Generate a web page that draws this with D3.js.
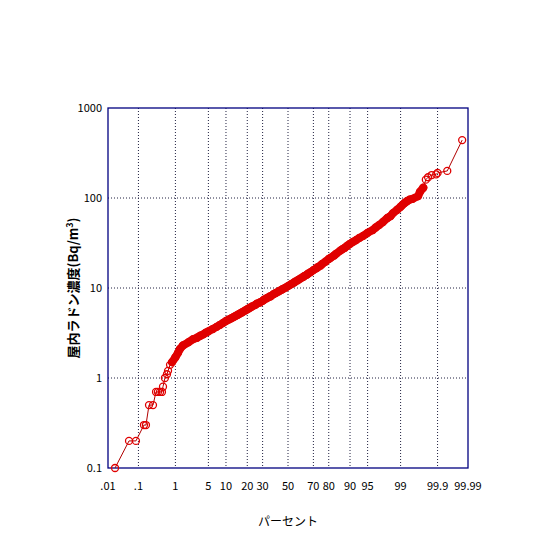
<!DOCTYPE html>
<html><head><meta charset="utf-8">
<script src="https://cdn.jsdelivr.net/npm/d3@7"></script>
<style>body{margin:0;background:#fff}text{font-family:"Noto Sans CJK JP","DejaVu Sans",sans-serif}</style>
</head><body><svg id="c" width="540" height="540"></svg>
<script>
// Percentile (%) and radon concentration (Bq/m3)
const pct = [0.0176,0.051,0.084,0.146,0.167,0.204,0.264,0.32,0.36,0.41,0.46,0.49,0.55,0.62,0.66,0.74,0.83,1.0,1.15,1.28,
  1.5,2,2.5,3,3.5,4,4.5,5,6,7,8,9,10,11,12,13,14,15,16,17,18,19,20,21,22,23,25,26,28,30,31,33,35,36,38,40,42,43,45,46,48,50,52,53,55,56,58,60,62,63,65,66,68,70,72,73,75,76,78,80,81,83,84,86,87,88,89,90,91,92,93,94,95,96,96.5,97,97.5,98,98.3,98.5,98.8,99,99.1,99.2,99.3,99.4,99.5,
  99.64,99.68,99.74,99.78,99.81,99.85,99.89,99.9,99.95,99.984];
const val = [0.1,0.2,0.2,0.3,0.3,0.5,0.5,0.7,0.7,0.7,0.7,0.8,1.0,1.1,1.2,1.4,1.5,1.7,1.9,2.1,
  2.3,2.5,2.7,2.8,2.95,3.05,3.2,3.3,3.5,3.7,3.9,4.1,4.3,4.45,4.6,4.75,4.9,5.05,5.2,5.35,5.5,5.65,5.8,5.95,6.1,6.25,6.5,6.7,6.9,7.2,7.4,7.7,8.0,8.1,8.5,8.8,9.1,9.3,9.6,9.8,10.1,10.5,10.9,11.1,11.5,11.8,12.2,12.7,13.2,13.5,14.0,14.4,15.0,15.8,16.5,17,17.8,18.5,19.6,21,21.6,23,24,26,27,28,29.5,31,32.5,34,36,38,41,44,47,50,54,60,63,68,74,80,84,88,92,96,98,
  105,117,130,160,170,180,183,190,200,440];
const xTicks = [0.01,0.1,1,5,10,20,30,50,70,80,90,95,99,99.9,99.99];
const xLabels = [".01",".1","1","5","10","20","30","50","70","80","90","95","99","99.9","99.99"];
const yTicks = [0.1,1,10,100,1000];
const denseFrom = 16, denseTo = 110;

const L = 108, R = 468, T = 108, B = 468;
const svg = d3.select("#c");
function inv(p) {
  // Acklam's inverse normal CDF approximation
  const a=[-39.6968302866538,220.946098424521,-275.928510446969,138.357751867269,-30.6647980661472,2.50662827745924];
  const b=[-54.4760987982241,161.585836858041,-155.698979859887,66.8013118877197,-13.2806815528857];
  const c=[-0.00778489400243029,-0.322396458041136,-2.40075827716184,-2.54973253934373,4.37466414146497,2.93816398269878];
  const d=[0.00778469570904146,0.32246712907004,2.445134137143,3.75440866190742];
  let q, r;
  if (p < 0.02425) { q = Math.sqrt(-2*Math.log(p)); return (((((c[0]*q+c[1])*q+c[2])*q+c[3])*q+c[4])*q+c[5])/((((d[0]*q+d[1])*q+d[2])*q+d[3])*q+1); }
  if (p > 1-0.02425) { q = Math.sqrt(-2*Math.log(1-p)); return -(((((c[0]*q+c[1])*q+c[2])*q+c[3])*q+c[4])*q+c[5])/((((d[0]*q+d[1])*q+d[2])*q+d[3])*q+1); }
  q = p - 0.5; r = q*q;
  return (((((a[0]*r+a[1])*r+a[2])*r+a[3])*r+a[4])*r+a[5])*q/(((((b[0]*r+b[1])*r+b[2])*r+b[3])*r+b[4])*r+1);
}
const probit = (p) => inv(p / 100);
const zScale = d3.scaleLinear().domain([probit(0.01), probit(99.99)]).range([L, R]);
const x = (p) => zScale(probit(p));
const y = d3.scaleLog().domain([0.1, 1000]).range([B, T]);

// Grid
const navy = "#000080";
svg.selectAll("line.gx").data(xTicks.slice(1, -1)).join("line")
  .attr("x1", x).attr("x2", x).attr("y1", T).attr("y2", B)
  .attr("stroke", "#202040").attr("stroke-width", 1).attr("stroke-dasharray", "1,2");
svg.selectAll("line.gy").data(yTicks.slice(1, -1)).join("line")
  .attr("x1", L).attr("x2", R).attr("y1", y).attr("y2", y)
  .attr("stroke", "#202040").attr("stroke-width", 1).attr("stroke-dasharray", "1,2");
svg.append("rect").attr("x", L).attr("y", T).attr("width", R - L).attr("height", B - T)
  .attr("fill", "none").attr("stroke", navy).attr("stroke-width", 1.3);

// Tick labels
svg.selectAll("text.xt").data(xTicks).join("text")
  .attr("x", x).attr("y", B + 22).attr("text-anchor", "middle")
  .attr("font-size", 11).text((d, i) => xLabels[i]);
svg.selectAll("text.yt").data(yTicks).join("text")
  .attr("x", L - 6).attr("y", (d) => y(d) + 4).attr("text-anchor", "end")
  .attr("font-size", 11).text((d) => d);

// Data
const pts = pct.map((p, i) => [x(p), y(val[i])]);
svg.append("path").attr("d", d3.line()(pts)).attr("fill", "none")
  .attr("stroke", "#b00000").attr("stroke-width", 1);
// dense run of overlapping markers reads as a solid band
svg.append("path").attr("d", d3.line()(pts.slice(denseFrom, denseTo)))
  .attr("fill", "none").attr("stroke", "#e00000").attr("stroke-width", 8)
  .attr("stroke-linecap", "round").attr("stroke-linejoin", "round");
svg.selectAll("circle").data(pts).join("circle")
  .attr("cx", (d) => d[0]).attr("cy", (d) => d[1]).attr("r", 3.5)
  .attr("fill", "none").attr("stroke", "#e00000").attr("stroke-width", 1.3);

// Axis titles
svg.append("text").attr("x", (L + R) / 2).attr("y", 526).attr("text-anchor", "middle")
  .attr("font-size", 12).text("パーセント");
svg.append("text").attr("transform", `translate(78,${(T + B) / 2}) rotate(-90)`)
  .attr("text-anchor", "middle").attr("font-size", 13).attr("font-weight", "bold")
  .html("屋内ラドン濃度(Bq/m<tspan dy='-5' font-size='9'>3</tspan><tspan dy='5'>)</tspan>");
</script></body></html>
